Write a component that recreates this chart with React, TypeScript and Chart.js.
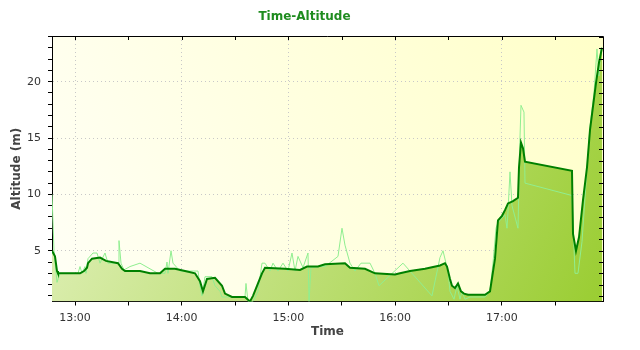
import React, { useEffect, useRef } from 'react';
import { Chart, registerables } from 'chart.js';

Chart.register(...registerables);

const chartTitle = 'Time-Altitude';
const xAxisTitle = 'Time';
const yAxisTitle = 'Altitude (m)';

const xStart = '12:47:04';
const xEnd = '17:56:54';
const yMin = 0.5;
const yMax = 24.05;
const xTickStepMinutes = 30;
const xLabelStepMinutes = 60;
const yTickStep = 1;
const yLabelStep = 5;

// smoothed altitude (dark green, filled)
const smoothTimes = [
  '12:47:04', '12:48:45', '12:49:53', '12:50:26', '13:02:49', '13:05:04', '13:06:45', '13:07:19',
  '13:09:34', '13:14:04', '13:17:26', '13:24:11', '13:26:26', '13:28:07', '13:36:33', '13:42:10',
  '13:47:48', '13:50:37', '13:56:14', '14:01:51', '14:07:29', '14:10:17', '14:11:58', '14:14:13',
  '14:18:43', '14:22:40', '14:24:21', '14:28:17', '14:35:35', '14:38:24', '14:40:05', '14:42:54',
  '14:45:09', '14:46:50', '14:58:05', '15:06:31', '15:10:27', '15:16:38', '15:20:35', '15:31:49',
  '15:34:38', '15:43:04', '15:48:41', '15:59:56', '16:02:45', '16:08:22', '16:16:49', '16:25:14',
  '16:28:03', '16:29:11', '16:30:52', '16:31:59', '16:33:40', '16:35:22', '16:37:03', '16:38:44',
  '16:40:59', '16:50:32', '16:53:21', '16:56:10', '16:57:51', '17:00:06', '17:01:47', '17:03:29',
  '17:06:17', '17:09:06', '17:09:40', '17:10:47', '17:11:55', '17:13:02', '17:39:28', '17:40:02',
  '17:41:43', '17:43:24', '17:45:39', '17:47:54', '17:49:35', '17:52:58', '17:54:39', '17:56:20',
];
const smoothAltitude = [
  5.0, 4.5, 3.2, 3.0, 3.0, 3.2, 3.5, 3.9,
  4.3, 4.4, 4.1, 3.9, 3.4, 3.2, 3.2, 3.0,
  3.0, 3.4, 3.4, 3.2, 3.0, 2.3, 1.4, 2.5,
  2.6, 1.9, 1.2, 0.9, 0.9, 0.5, 1.0, 2.1,
  3.0, 3.5, 3.4, 3.3, 3.6, 3.6, 3.8, 3.9,
  3.5, 3.4, 3.0, 2.9, 3.0, 3.2, 3.4, 3.7,
  3.9, 3.6, 2.5, 1.9, 1.7, 2.1, 1.4, 1.2,
  1.1, 1.1, 1.4, 4.3, 7.7, 8.1, 8.6, 9.2,
  9.4, 9.7, 12.4, 14.6, 14.1, 12.9, 12.1, 6.5,
  5.0, 6.2, 9.5, 12.4, 15.7, 19.9, 21.7, 23.0,
];

// raw altitude (light green)
const rawTimes = [
  '12:47:04', '12:48:11', '12:49:53', '12:51:34', '13:01:41', '13:02:49', '13:03:56', '13:05:37',
  '13:06:11', '13:07:19', '13:10:07', '13:12:22', '13:14:04', '13:16:52', '13:18:33', '13:24:11',
  '13:24:44', '13:25:52', '13:27:33', '13:30:56', '13:36:33', '13:46:40', '13:50:37', '13:51:44',
  '13:52:18', '13:53:59', '13:55:06', '13:59:03', '14:09:10', '14:10:17', '14:11:25', '14:13:06',
  '14:17:02', '14:18:43', '14:21:32', '14:22:40', '14:35:35', '14:36:09', '14:37:17', '14:40:05',
  '14:42:54', '14:45:09', '14:46:50', '14:49:39', '14:51:20', '14:54:09', '14:56:58', '14:59:46',
  '15:02:01', '15:03:43', '15:05:23', '15:08:13', '15:11:01', '15:11:35', '15:12:42', '15:17:46',
  '15:20:35', '15:27:53', '15:30:08', '15:31:49', '15:34:38', '15:37:26', '15:40:49', '15:45:53',
  '15:48:41', '15:50:56', '16:04:26', '16:20:44', '16:25:14', '16:26:56', '16:28:37', '16:29:44',
  '16:30:52', '16:33:07', '16:34:48', '16:36:29', '16:37:37', '16:39:18', '16:42:07', '16:50:32',
  '16:53:21', '16:55:02', '16:56:44', '16:57:51', '17:00:06', '17:01:47', '17:02:55', '17:03:29',
  '17:04:36', '17:05:44', '17:09:06', '17:10:13', '17:10:47', '17:12:28', '17:13:02', '17:39:28',
  '17:41:09', '17:42:50', '17:45:05', '17:47:20', '17:49:35', '17:51:50', '17:53:31', '17:54:39',
  '17:55:46', '17:56:20',
];
const rawAltitude = [
  10.0, 5.0, 2.2, 3.0, 3.0, 3.6, 3.0, 3.6,
  3.0, 4.3, 4.8, 4.8, 3.9, 4.8, 3.9, 3.9,
  5.9, 3.9, 3.3, 3.6, 3.9, 3.0, 3.0, 4.0,
  3.0, 5.0, 3.9, 3.2, 3.2, 1.9, 1.0, 2.7,
  2.7, 1.9, 1.4, 0.9, 0.9, 2.1, 0.5, 0.5,
  1.4, 3.9, 3.9, 3.2, 3.9, 3.2, 3.9, 3.2,
  4.8, 3.2, 4.5, 3.5, 4.8, 0.5, 3.5, 3.6,
  3.6, 4.5, 7.0, 5.5, 3.9, 3.2, 3.9, 3.9,
  3.0, 1.9, 3.9, 1.0, 4.4, 5.0, 3.9, 3.2,
  1.4, 0.7, 1.9, 0.7, 1.4, 0.7, 0.9, 0.9,
  1.4, 3.9, 7.0, 7.5, 7.9, 8.2, 7.0, 8.5,
  12.0, 9.0, 7.0, 15.0, 17.9, 17.3, 11.0, 9.9,
  3.0, 3.0, 5.8, 11.0, 16.0, 19.0, 22.9, 20.5,
  23.0, 23.0,
];

function toMinutes(s: string): number {
  const [h, m, sec] = s.split(':').map(Number);
  return h * 60 + m + (sec || 0) / 60;
}

function formatMinutes(v: number): string {
  const h = Math.floor(v / 60);
  const m = Math.round(v - h * 60);
  return `${h}:${String(m).padStart(2, '0')}`;
}

const tickFont = { family: '"DejaVu Sans", sans-serif', size: 11 };
const titleFont = { family: '"DejaVu Sans", sans-serif', size: 12, weight: 'bold' as const };

const plotBackground = {
  id: 'plotBackground',
  beforeDraw(chart: any) {
    const { ctx, chartArea: a } = chart;
    if (!a) return;
    ctx.save();
    ctx.fillStyle = '#ffffff';
    ctx.fillRect(0, 0, chart.width, chart.height);
    const g = ctx.createLinearGradient(a.left, a.bottom, a.right, a.top);
    g.addColorStop(0, '#fffff6');
    g.addColorStop(1, '#ffffc8');
    ctx.fillStyle = g;
    ctx.fillRect(a.left, a.top, a.right - a.left, a.bottom - a.top);
    ctx.restore();
  },
};

const frameTicks = {
  id: 'frameTicks',
  afterDraw(chart: any) {
    const { ctx, chartArea: a, scales } = chart;
    ctx.save();
    ctx.strokeStyle = '#000000';
    ctx.lineWidth = 1;
    ctx.beginPath();
    ctx.moveTo(a.left, a.top + 0.5);
    ctx.lineTo(a.right + 0.5, a.top + 0.5);
    ctx.lineTo(a.right + 0.5, a.bottom);
    for (const t of scales.x.ticks) {
      const px = Math.round(scales.x.getPixelForValue(t.value)) + 0.5;
      ctx.moveTo(px, a.top);
      ctx.lineTo(px, a.top + 4);
    }
    for (const t of scales.y.ticks) {
      const py = Math.round(scales.y.getPixelForValue(t.value)) + 0.5;
      ctx.moveTo(a.right, py);
      ctx.lineTo(a.right - 4, py);
    }
    ctx.stroke();
    ctx.restore();
  },
};

export default function App() {
  const canvasRef = useRef<HTMLCanvasElement | null>(null);

  useEffect(() => {
    if (!canvasRef.current) return;
    const smoothData = smoothTimes.map((t, i) => ({ x: toMinutes(t), y: smoothAltitude[i] }));
    const rawData = rawTimes.map((t, i) => ({ x: toMinutes(t), y: rawAltitude[i] }));

    const chart = new Chart(canvasRef.current, {
      type: 'line',
      data: {
        datasets: [
          {
            label: 'Altitude',
            data: smoothData,
            borderColor: '#008000',
            borderWidth: 2,
            pointRadius: 0,
            tension: 0,
            fill: 'start',
            backgroundColor: (ctx: any) => {
              const a = ctx.chart.chartArea;
              if (!a) return '#c0e080';
              const g = ctx.chart.ctx.createLinearGradient(a.left, a.top, a.right, a.bottom);
              g.addColorStop(0, '#e6f3c4');
              g.addColorStop(1, '#9acd32');
              return g;
            },
          },
          {
            label: 'Raw',
            data: rawData,
            borderColor: '#90ee90',
            borderWidth: 1,
            pointRadius: 0,
            tension: 0,
            fill: false,
          },
        ],
      },
      options: {
        animation: false,
        responsive: false,
        maintainAspectRatio: false,
        layout: { padding: { left: 6, right: 37, top: 0, bottom: 7 } },
        plugins: {
          legend: { display: false },
          tooltip: { enabled: false },
          filler: { drawTime: 'beforeDatasetsDraw' },
          title: {
            display: true,
            text: chartTitle,
            color: '#1f8c1f',
            font: titleFont,
            padding: { top: 10, bottom: 11.6 },
          },
        },
        scales: {
          x: {
            type: 'linear',
            min: toMinutes(xStart),
            max: toMinutes(xEnd),
            afterFit: (s: any) => { s.height = 41.5; },
            border: { display: true, color: '#000000', width: 1, dash: [1, 3] },
            grid: {
              color: (c: any) => (c.tick && c.tick.value % xLabelStepMinutes === 0 ? '#c8c8c8' : 'rgba(0,0,0,0)'),
              tickColor: '#000000',
              tickLength: 4,
              drawTicks: true,
            },
            ticks: {
              stepSize: xTickStepMinutes,
              includeBounds: false,
              autoSkip: false,
              maxRotation: 0,
              maxTicksLimit: 100,
              padding: 6,
              color: '#333333',
              font: tickFont,
              callback: (v: any) => (Number(v) % xLabelStepMinutes === 0 ? formatMinutes(Number(v)) : ''),
            },
            title: {
              display: true,
              text: xAxisTitle,
              color: '#444444',
              font: titleFont,
              padding: { top: 2, bottom: 4 },
            },
          },
          y: {
            type: 'linear',
            min: yMin,
            max: yMax,
            afterFit: (s: any) => { s.width = 46; },
            border: { display: true, color: '#000000', width: 1, dash: [1, 3] },
            grid: {
              color: (c: any) => (c.tick && c.tick.value % yLabelStep === 0 ? '#c8c8c8' : 'rgba(0,0,0,0)'),
              tickColor: '#000000',
              tickLength: 4,
              drawTicks: true,
            },
            ticks: {
              stepSize: yTickStep,
              includeBounds: false,
              autoSkip: false,
              maxTicksLimit: 100,
              padding: 7,
              color: '#333333',
              font: tickFont,
              callback: (v: any) => (Number(v) % yLabelStep === 0 ? String(v) : ''),
            },
            title: {
              display: true,
              text: yAxisTitle,
              color: '#444444',
              font: titleFont,
              padding: { top: 4, bottom: 4 },
            },
          },
        },
      },
      plugins: [plotBackground, frameTicks],
    } as any);

    return () => chart.destroy();
  }, []);

  return (
    <div style={{ position: 'absolute', left: 0, top: 0, width: 640, height: 350, background: '#ffffff' }}>
      <canvas ref={canvasRef} width={640} height={350} style={{ display: 'block', width: 640, height: 350 }} />
    </div>
  );
}
